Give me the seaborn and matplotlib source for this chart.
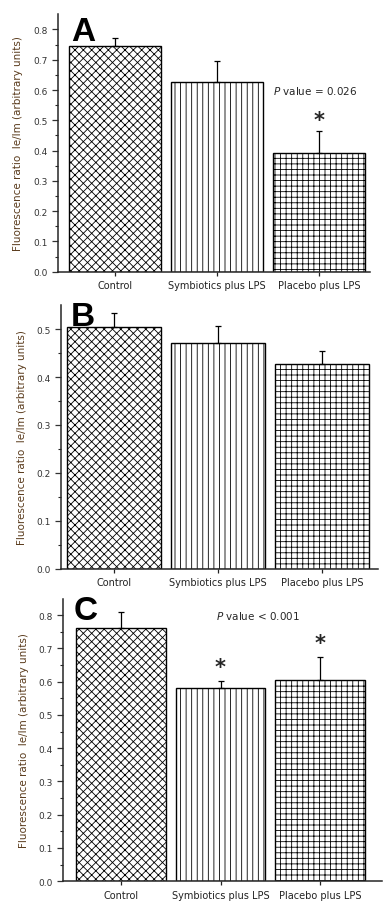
import numpy as np
import matplotlib
matplotlib.use("Agg")
import matplotlib.pyplot as plt
import pandas as pd
import seaborn as sns

# data
groups = ["Control", "Symbiotics plus LPS", "Placebo plus LPS"]
means_a = [0.745, 0.625, 0.392]
errs_a = [0.027, 0.072, 0.074]
means_b = [0.505, 0.470, 0.427]
errs_b = [0.028, 0.036, 0.028]
means_c = [0.762, 0.580, 0.606]
errs_c = [0.048, 0.023, 0.069]

sns.set_style("ticks")
plt.rcParams["font.family"] = ["DejaVu Sans"]
plt.rcParams["hatch.linewidth"] = 0.6

hatches = ["xxxx", "|||", "+++"]
ylab = "Fluorescence ratio  Ie/Im (arbitrary units)"
lab_col = "#5a3b1c"

fig = plt.figure(figsize=(3.89, 9.03), dpi=100)

panels = [
    # letter, means, errs, axes rect, ylim, xlim, letter pos, yticks
    ("A", means_a, errs_a, [0.149, 0.698, 0.802, 0.285], 0.85, (-0.56, 2.5), (-0.43, 0.765),
     np.arange(0, 0.81, 0.1)),
    ("B", means_b, errs_b, [0.157, 0.369, 0.815, 0.292], 0.55, (-0.51, 2.54), (-0.42, 0.508),
     np.arange(0, 0.51, 0.1)),
    ("C", means_c, errs_c, [0.162, 0.023, 0.82, 0.313], 0.85, (-0.58, 2.62), (-0.47, 0.79),
     np.arange(0, 0.81, 0.1)),
]

for letter, means, errs, rect, ytop, xl, lpos, yt in panels:
    ax = fig.add_axes(rect)
    df = pd.DataFrame({"group": groups, "value": means})
    sns.barplot(data=df, x="group", y="value", ax=ax, color="white",
                edgecolor="black", linewidth=1.0, errorbar=None, width=0.9)
    for p, h in zip(ax.patches, hatches):
        p.set_hatch(h)
        p.set_facecolor("white")
    ax.errorbar(range(len(groups)), means, yerr=[np.zeros(len(errs)), errs],
                fmt="none", ecolor="black", elinewidth=0.9, capsize=2.5, capthick=0.9)
    ax.set_ylim(0, ytop)
    ax.set_xlim(*xl)
    ax.set_yticks(yt)
    ax.set_yticklabels([f"{v:.1f}" for v in yt])
    ax.set_yticks(np.arange(0.05, ytop, 0.1), minor=True)
    ax.tick_params(axis="y", which="major", length=4, width=0.9, labelsize=6.5, colors="#333333")
    ax.tick_params(axis="y", which="minor", length=2.5, width=0.8)
    ax.tick_params(axis="x", length=3, width=0.9, labelsize=7, colors="#222222", pad=3)
    ax.set_xlabel("")
    ax.set_ylabel(ylab, fontsize=7.5, color=lab_col, labelpad=7)
    for s in ["left", "bottom"]:
        ax.spines[s].set_linewidth(1.1)
    sns.despine(ax=ax)
    ax.text(lpos[0], lpos[1], letter, fontsize=24, fontweight="bold", color="black",
            fontfamily="Liberation Sans", ha="left", va="baseline")

    if letter == "A":
        ax.text(1.55, 0.6, r"$\it{P}$ value = 0.026", fontsize=7.5, va="center")
        ax.text(2.0, 0.5, "*", fontsize=15, fontweight="bold", ha="center", va="center")
    if letter == "C":
        ax.text(0.95, 0.8, r"$\it{P}$ value < 0.001", fontsize=7.5, va="center")
        ax.text(1.0, 0.645, "*", fontsize=15, fontweight="bold", ha="center", va="center")
        ax.text(2.0, 0.715, "*", fontsize=15, fontweight="bold", ha="center", va="center")

fig.savefig("out.png", dpi=100)
